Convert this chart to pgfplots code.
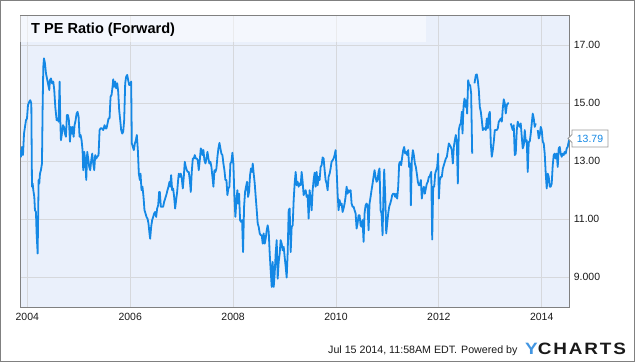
\documentclass[border=0pt]{standalone}
\usepackage{pgfplots}
\pgfplotsset{compat=1.18}
\usepackage{fontspec}
\setmainfont{Liberation Sans}
\definecolor{linec}{RGB}{20,136,229}
\definecolor{bgc}{RGB}{234,240,251}
\definecolor{gridc}{RGB}{214,216,220}
\definecolor{framec}{RGB}{128,128,128}
\definecolor{logoblue}{RGB}{66,150,226}
\begin{document}
\begin{tikzpicture}[x=1bp,y=1bp]
\path[use as bounding box] (0,0) rectangle (635,362);
\fill[white] (0,0) rectangle (635,362);
\draw[framec, line width=1bp] (0.5,0.5) rectangle (634.5,361.5);
\begin{axis}[
  at={(20bp,55bp)}, anchor=south west,
  scale only axis, width=549.7bp, height=291.3bp,
  xmin=2003.858, xmax=2014.544, ymin=7.977, ymax=18.01,
  axis background/.style={fill=bgc},
  axis line style={framec, line width=0.8bp},
  grid=major, major grid style={gridc, line width=0.8bp},
  major tick length=0pt,
  xtick={2004,2006,2008,2010,2012,2014},
  xticklabels={2004,2006,2008,2010,2012,2014},
  ytick={9,11,13,15,17},
  yticklabels={9.000,11.00,13.00,15.00,17.00},
  yticklabel pos=right,
  tick label style={font=\fontsize{10.5}{12}\selectfont, text=black!90, inner sep=0pt},
  xticklabel style={anchor=north, yshift=-6bp},
  yticklabel style={anchor=west, xshift=4bp},
  unbounded coords=jump,
]
\fill[white, fill opacity=0.5] (axis cs:2003.858,17.09) rectangle (axis cs:2011.75,18.01);
\addplot[linec, line width=1.8bp, line join=round, mark=none] coordinates {
(2003.858,13.38) (2003.877,13.15) (2003.897,13.49) (2003.916,13.21) (2003.936,13.95) (2003.955,14.18) (2003.974,14.41) (2003.994,14.47) (2004.013,14.93) (2004.039,15.05) (2004.058,15.10) (2004.078,14.99) (2004.091,12.12) (2004.104,12.23) (2004.117,12.00) (2004.136,11.77) (2004.149,11.31) (2004.168,11.25) (2004.181,10.51) (2004.201,9.82) (2004.220,12.35) (2004.233,12.23) (2004.246,12.57) (2004.265,12.69) (2004.285,12.92) (2004.298,14.87) (2004.311,16.25) (2004.324,16.54) (2004.343,16.37) (2004.363,16.02) (2004.389,15.79) (2004.415,15.56) (2004.427,15.45) (2004.440,15.79) (2004.460,15.85) (2004.479,15.68) (2004.505,15.74) (2004.524,15.45) (2004.544,14.87) (2004.570,14.41) (2004.589,14.47) (2004.608,14.36) (2004.628,15.74) (2004.641,14.41) (2004.654,13.72) (2004.673,13.95) (2004.693,14.24) (2004.712,14.18) (2004.732,13.95) (2004.751,13.84) (2004.770,14.59) (2004.790,14.59) (2004.809,14.41) (2004.829,13.67) (2004.848,14.18) (2004.868,13.95) (2004.880,14.18) (2004.900,13.84) (2004.919,14.24) (2004.939,14.41) (2004.958,14.64) (2004.977,14.70) (2004.997,14.53) (2005.016,13.84) (2005.036,13.90) (2005.055,13.72) (2005.074,13.38) (2005.087,12.69) (2005.107,13.32) (2005.126,13.03) (2005.146,12.35) (2005.165,13.32) (2005.184,13.09) (2005.204,12.80) (2005.223,12.69) (2005.243,13.03) (2005.262,13.26) (2005.282,12.92) (2005.301,12.69) (2005.320,13.21) (2005.340,13.09) (2005.359,13.15) (2005.385,13.21) (2005.405,14.07) (2005.424,14.13) (2005.450,14.13) (2005.476,14.07) (2005.502,14.24) (2005.521,14.13) (2005.540,14.13) (2005.560,14.30) (2005.579,14.47) (2005.599,14.47) (2005.618,15.22) (2005.638,15.28) (2005.657,15.56) (2005.670,15.82) (2005.689,15.56) (2005.709,15.74) (2005.728,15.51) (2005.748,15.68) (2005.767,15.39) (2005.786,14.76) (2005.806,14.41) (2005.825,14.07) (2005.845,13.95) (2005.864,14.01) (2005.883,14.41) (2005.903,15.68) (2005.922,15.91) (2005.942,15.97) (2005.961,15.79) (2005.981,15.62) (2006.000,15.62) (2006.019,15.74) (2006.032,13.61) (2006.052,13.49) (2006.071,13.38) (2006.091,13.61) (2006.110,13.72) (2006.129,13.90) (2006.149,13.38) (2006.168,12.57) (2006.188,12.35) (2006.201,12.57) (2006.220,12.00) (2006.239,12.12) (2006.259,11.77) (2006.278,11.31) (2006.298,11.20) (2006.317,11.08) (2006.337,11.02) (2006.356,10.85) (2006.375,10.51) (2006.388,10.33) (2006.408,10.74) (2006.427,10.97) (2006.447,11.08) (2006.466,11.20) (2006.485,11.25) (2006.505,11.08) (2006.524,11.37) (2006.544,11.48) (2006.563,11.94) (2006.576,11.94)
(2006.596,11.43) (2006.621,11.43) (2006.641,11.43) (2006.660,11.60) (2006.680,11.71) (2006.706,11.86) (2006.725,12.00) (2006.744,12.12) (2006.764,12.29) (2006.777,12.12) (2006.796,12.52) (2006.816,12.00) (2006.835,12.06) (2006.854,11.77) (2006.874,11.37) (2006.893,11.66) (2006.913,11.94) (2006.932,12.35) (2006.945,12.57) (2006.964,12.46) (2006.984,12.57) (2007.003,12.40) (2007.023,12.06) (2007.042,12.46) (2007.061,12.98) (2007.081,12.80) (2007.100,12.69) (2007.120,12.63) (2007.139,12.63) (2007.159,12.35) (2007.178,11.94) (2007.197,12.63) (2007.217,13.09) (2007.236,13.09) (2007.256,13.21) (2007.275,13.09) (2007.294,13.09) (2007.314,13.03) (2007.333,12.69) (2007.353,13.03) (2007.372,13.44) (2007.392,13.38) (2007.405,13.21) (2007.424,13.38) (2007.443,13.03) (2007.463,12.92) (2007.482,13.09) (2007.502,13.32) (2007.521,13.09) (2007.540,12.92) (2007.560,12.98) (2007.579,12.80) (2007.599,12.46) (2007.618,12.12) (2007.638,12.69) (2007.657,12.63) (2007.676,12.75) (2007.696,13.15) (2007.715,13.44) (2007.735,13.63) (2007.754,13.44) (2007.773,13.26) (2007.793,13.21) (2007.812,12.92) (2007.832,12.69) (2007.851,12.35) (2007.871,12.35) (2007.890,11.83) (2007.909,12.06) (2007.929,12.12) (2007.948,12.92) (2007.968,12.98) (2007.987,13.29) (2008.006,12.92) (2008.026,11.77) (2008.045,11.08) (2008.065,11.66) (2008.084,12.00) (2008.097,11.54) (2008.117,11.88) (2008.136,10.97) (2008.155,10.91) (2008.175,10.97) (2008.194,9.87) (2008.214,11.43) (2008.233,11.94) (2008.252,12.12) (2008.272,12.29) (2008.291,11.77) (2008.311,11.94) (2008.330,12.52) (2008.349,12.75) (2008.369,12.63) (2008.382,12.92) (2008.401,12.57) (2008.421,12.23) (2008.440,11.77) (2008.460,11.31) (2008.479,10.85) (2008.498,10.74) (2008.518,10.51) (2008.537,10.45) (2008.557,10.45) (2008.576,10.16) (2008.595,10.51) (2008.615,10.16) (2008.634,10.33) (2008.654,10.62) (2008.673,10.79) (2008.693,10.56) (2008.712,9.82) (2008.731,9.24) (2008.751,8.67) (2008.770,9.53) (2008.790,8.67) (2008.809,9.13) (2008.828,9.82) (2008.848,10.28) (2008.867,8.95) (2008.887,9.53) (2008.906,9.82) (2008.925,10.28) (2008.945,10.16) (2008.964,9.93) (2008.984,10.05) (2009.003,9.70) (2009.023,9.36) (2009.042,8.99) (2009.061,9.82) (2009.081,11.31) (2009.100,11.37) (2009.120,9.87) (2009.139,10.74) (2009.159,10.79) (2009.178,11.66) (2009.197,12.23)
(2009.217,12.63) (2009.236,12.17) (2009.255,12.29) (2009.275,12.12) (2009.294,12.23) (2009.314,12.17) (2009.333,12.63) (2009.352,12.29) (2009.372,11.83) (2009.391,11.94) (2009.411,12.00) (2009.430,11.77) (2009.449,11.83) (2009.469,11.02) (2009.488,12.00) (2009.508,11.71) (2009.527,11.31) (2009.547,12.00) (2009.566,12.35) (2009.585,12.60) (2009.605,12.12) (2009.624,12.63) (2009.644,12.17) (2009.663,12.46) (2009.682,12.35) (2009.702,12.80) (2009.721,12.86) (2009.741,13.13) (2009.760,13.09) (2009.780,12.69) (2009.799,12.35) (2009.818,12.23) (2009.838,12.00) (2009.857,12.46) (2009.877,12.57) (2009.896,12.75) (2009.915,12.98) (2009.935,13.03) (2009.954,13.09) (2009.974,13.21) (2009.993,13.38) (2010.013,12.69) (2010.032,11.88) (2010.051,11.31) (2010.071,11.66) (2010.090,11.48) (2010.110,11.54) (2010.129,11.25) (2010.148,11.37) (2010.168,11.54) (2010.187,11.77) (2010.207,12.12) (2010.226,11.88) (2010.246,12.00) (2010.265,11.94) (2010.285,12.00) (2010.304,11.54) (2010.323,11.43) (2010.343,11.43) (2010.362,11.31) (2010.382,11.20) (2010.401,10.68) (2010.420,10.85) (2010.440,11.14) (2010.459,11.14) (2010.479,10.79) (2010.498,10.74) (2010.517,10.97) (2010.537,10.22) (2010.556,11.20) (2010.576,11.48) (2010.595,11.54) (2010.614,11.48) (2010.634,10.62) (2010.653,11.54) (2010.673,11.77) (2010.692,12.00) (2010.712,12.23) (2010.731,12.46) (2010.750,12.69) (2010.770,12.46) (2010.789,12.29) (2010.809,12.35) (2010.828,12.63) (2010.847,12.75) (2010.867,11.31) (2010.886,11.20) (2010.906,10.45) (2010.925,12.00) (2010.938,12.71) (2010.958,11.77) (2010.977,10.51) (2010.996,10.85) (2011.016,11.20) (2011.035,11.43) (2011.055,11.54) (2011.074,11.66) (2011.093,11.83) (2011.113,11.88) (2011.132,11.88) (2011.152,11.77) (2011.171,11.88) (2011.190,11.71) (2011.210,12.12) (2011.229,12.92) (2011.249,12.98) (2011.268,12.86) (2011.288,13.15) (2011.307,13.38) (2011.326,13.49) (2011.346,13.26) (2011.365,13.32) (2011.385,13.21) (2011.404,13.38) (2011.423,12.80) (2011.443,12.92) (2011.456,11.48) (2011.475,13.03) (2011.495,13.38) (2011.514,13.21) (2011.534,12.92) (2011.553,12.80) (2011.572,12.57) (2011.592,12.29) (2011.611,12.17) (2011.631,12.17) (2011.650,12.35) (2011.669,11.71) (2011.689,12.00) (2011.708,12.12) (2011.728,11.88) (2011.747,12.06) (2011.767,12.23) (2011.786,12.29) (2011.805,12.46) (2011.818,12.46)
(2011.852,12.63) (2011.871,10.30) (2011.890,12.12) (2011.910,12.12) (2011.929,12.57) (2011.949,12.69) (2011.968,12.80) (2011.987,13.26) (2012.000,11.71) (2012.019,12.35) (2012.039,12.46) (2012.058,12.46) (2012.078,12.75) (2012.097,12.86) (2012.117,12.98) (2012.136,13.09) (2012.156,13.15) (2012.175,13.38) (2012.194,13.61) (2012.214,13.55) (2012.233,13.49) (2012.252,13.38) (2012.272,12.92) (2012.291,13.49) (2012.311,13.72) (2012.330,13.90) (2012.350,13.61) (2012.369,12.23) (2012.388,14.07) (2012.408,14.24) (2012.427,14.30) (2012.447,14.70) (2012.460,13.95) (2012.479,14.87) (2012.499,15.16) (2012.518,14.87) (2012.537,15.10) (2012.550,14.64) (2012.570,15.79) (2012.589,15.62) (2012.609,15.62) (2012.628,15.33) (2012.648,13.26) (2012.670,nan)
(2012.693,15.68) (2012.719,15.97) (2012.738,15.99) (2012.757,15.79) (2012.777,15.45) (2012.796,14.87) (2012.816,14.70) (2012.835,14.41) (2012.855,14.07) (2012.874,14.13) (2012.894,14.13) (2012.913,14.07) (2012.932,14.47) (2012.952,14.13) (2012.971,14.59) (2012.991,14.70) (2013.010,13.61) (2013.029,13.15) (2013.049,13.38) (2013.068,13.67) (2013.088,14.07) (2013.107,14.07) (2013.126,14.07) (2013.146,14.13) (2013.165,14.36) (2013.185,14.41) (2013.204,14.47) (2013.224,14.36) (2013.243,14.82) (2013.262,15.13) (2013.282,14.99) (2013.301,14.64) (2013.321,14.93) (2013.340,14.99) (2013.359,14.99) (2013.380,nan)
(2013.398,14.30) (2013.418,14.18) (2013.437,14.07) (2013.456,14.24) (2013.476,13.21) (2013.495,13.26) (2013.515,14.07) (2013.534,14.36) (2013.554,14.24) (2013.573,14.18) (2013.592,14.30) (2013.612,13.84) (2013.631,13.44) (2013.651,13.55) (2013.670,14.07) (2013.690,13.67) (2013.709,13.72) (2013.728,12.63) (2013.748,13.67) (2013.767,13.67) (2013.787,13.95) (2013.806,14.30) (2013.825,14.64) (2013.845,14.47) (2013.864,14.18) (2013.884,14.30) (2013.903,nan)
(2013.923,14.07) (2013.942,13.78) (2013.961,13.90) (2013.981,14.18) (2014.000,14.07) (2014.020,13.67) (2014.039,13.61) (2014.058,13.26) (2014.078,12.57) (2014.097,12.06) (2014.117,12.57) (2014.136,12.46) (2014.156,12.12) (2014.175,12.12) (2014.194,12.23) (2014.214,12.86) (2014.233,13.21) (2014.253,13.26) (2014.272,13.09) (2014.291,13.26) (2014.311,12.80) (2014.330,13.44) (2014.350,13.49) (2014.369,13.26) (2014.388,13.15) (2014.408,13.26) (2014.427,13.21) (2014.447,13.32) (2014.466,13.26) (2014.486,13.44) (2014.505,13.49) (2014.524,13.67) (2014.544,13.79)
};
\end{axis}
\node[anchor=base west, inner sep=0pt, font=\fontsize{14.6}{16}\selectfont\bfseries] at (31,328.3) {T PE Ratio (Forward)};
\draw[framec!80, fill=white, line width=0.8bp] (572,232) -- (608,232) -- (608,215) -- (572,215) -- (572,219.5) -- (568,223.5) -- (572,227.5) -- cycle;
\node[text=linec, inner sep=0pt, font=\fontsize{10.5}{12}\selectfont] at (590,223.5) {13.79};
\node[anchor=base west, inner sep=0pt, font=\fontsize{10.7}{12}\selectfont, text=black!90] at (328,9) {Jul 15 2014, 11:58AM EDT.\hspace{4bp}Powered by};
\node[anchor=base west, inner sep=0pt] at (525,8) {\scalebox{1.15}[1]{\fontsize{16.5}{17}\selectfont\bfseries\addfontfeature{LetterSpace=10}\textcolor{logoblue}{Y}\textcolor{black!90}{CHARTS}}};
\end{tikzpicture}
\end{document}
